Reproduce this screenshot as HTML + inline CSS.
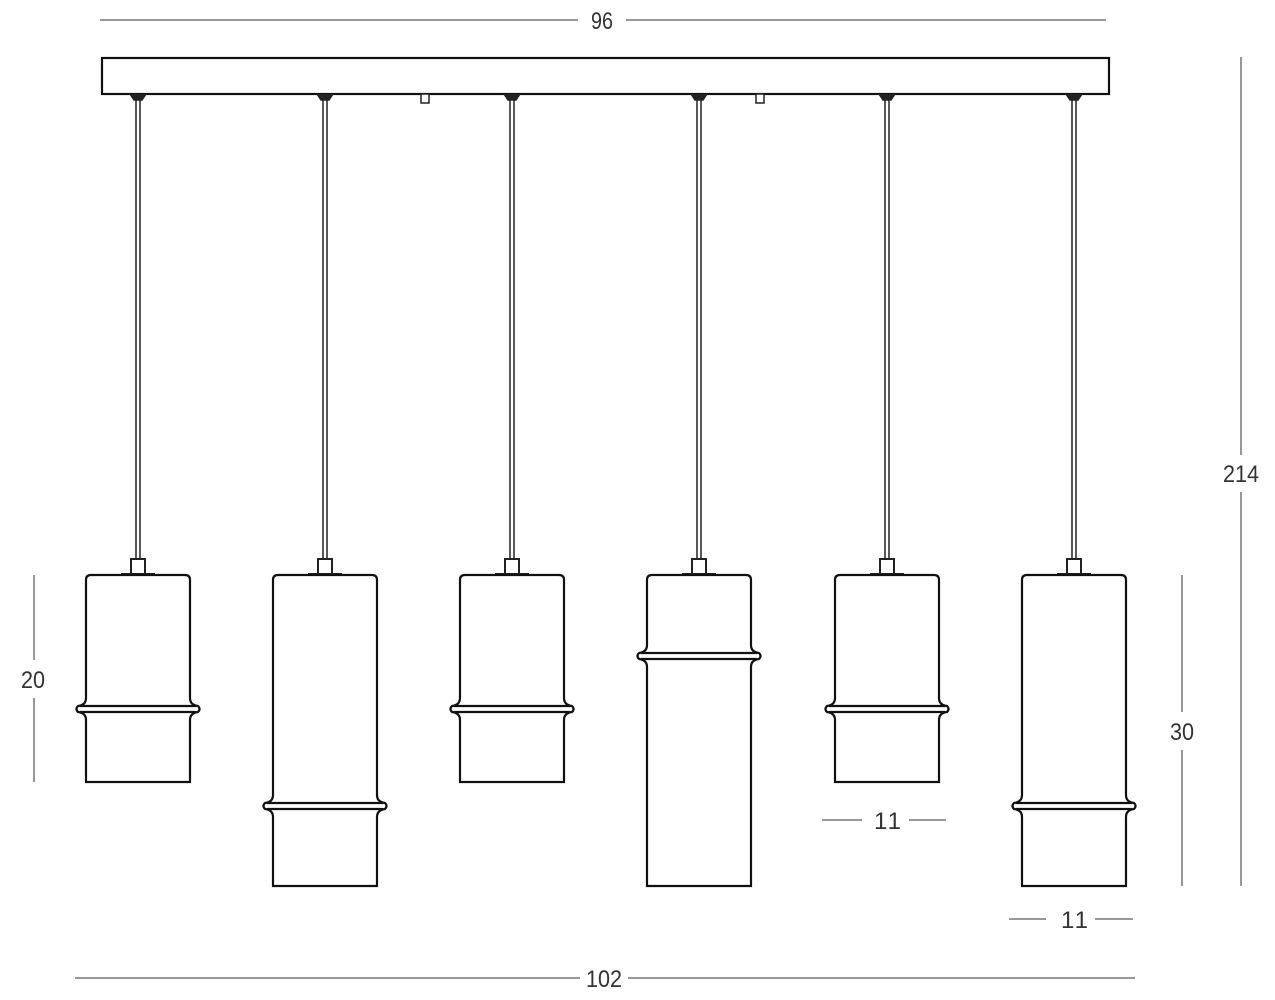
<!DOCTYPE html>
<html><head><style>
html,body{margin:0;padding:0;background:#fff;width:1275px;height:1000px;overflow:hidden}
text{font-family:"Liberation Sans Narrow","Liberation Sans",sans-serif;font-size:24px;fill:#333}
</style></head><body>
<svg width="1275" height="1000" viewBox="0 0 1275 1000" xmlns="http://www.w3.org/2000/svg">
<defs>
<g id="cord" stroke="#222" fill="none" stroke-width="1.5">
<path d="M -8 94 L -4 100 H 4 L 8 94" fill="#222"/>
<line x1="-2" y1="100" x2="-2" y2="558"/><line x1="2" y1="100" x2="2" y2="558"/>
<rect x="-7" y="559" width="14" height="15" fill="#fff" stroke-width="2"/>
<line x1="-17" y1="574" x2="17" y2="574" stroke-width="2"/>
</g>
<g id="A" stroke="#111" fill="none" stroke-width="2.2">
<path d="M -52 580 Q -52 575 -47 575 H 47 Q 52 575 52 580 V 698 Q 52 705 60 706 Q 63 709 60 712 Q 52 713 52 720 V 782 H -52 V 720 Q -52 713 -60 712 Q -63 709 -60 706 Q -52 705 -52 698 Z"/>
<line x1="-58" y1="706" x2="58" y2="706"/><line x1="-58" y1="712" x2="58" y2="712"/>
</g>
<g id="B" stroke="#111" fill="none" stroke-width="2.2">
<path d="M -52 580 Q -52 575 -47 575 H 47 Q 52 575 52 580 V 795 Q 52 802 60 803 Q 63 806 60 809 Q 52 810 52 817 V 886 H -52 V 817 Q -52 810 -60 809 Q -63 806 -60 803 Q -52 802 -52 795 Z"/>
<line x1="-58" y1="803" x2="58" y2="803"/><line x1="-58" y1="809" x2="58" y2="809"/>
</g>
<g id="C" stroke="#111" fill="none" stroke-width="2.2">
<path d="M -52 580 Q -52 575 -47 575 H 47 Q 52 575 52 580 V 645 Q 52 652 60 653 Q 63 656 60 659 Q 52 660 52 667 V 886 H -52 V 667 Q -52 660 -60 659 Q -63 656 -60 653 Q -52 652 -52 645 Z"/>
<line x1="-58" y1="653" x2="58" y2="653"/><line x1="-58" y1="659" x2="58" y2="659"/>
</g>
</defs>
<rect x="102" y="58" width="1007" height="36" fill="#fff" stroke="#111" stroke-width="2.2"/>
<rect x="421" y="94" width="8" height="9" fill="#fff" stroke="#222" stroke-width="1.5"/>
<rect x="756" y="94" width="8" height="9" fill="#fff" stroke="#222" stroke-width="1.5"/>
<use href="#cord" transform="translate(138,0)"/><use href="#A" transform="translate(138,0)"/>
<use href="#cord" transform="translate(325,0)"/><use href="#B" transform="translate(325,0)"/>
<use href="#cord" transform="translate(512,0)"/><use href="#A" transform="translate(512,0)"/>
<use href="#cord" transform="translate(699,0)"/><use href="#C" transform="translate(699,0)"/>
<use href="#cord" transform="translate(887,0)"/><use href="#A" transform="translate(887,0)"/>
<use href="#cord" transform="translate(1074,0)"/><use href="#B" transform="translate(1074,0)"/>
<g stroke="#777" stroke-width="1.5">
<line x1="100" y1="20" x2="578" y2="20"/><line x1="626" y1="20" x2="1106" y2="20"/>
<line x1="1241" y1="57" x2="1241" y2="455"/><line x1="1241" y1="492" x2="1241" y2="886"/>
<line x1="1182" y1="575" x2="1182" y2="712"/><line x1="1182" y1="750" x2="1182" y2="886"/>
<line x1="34" y1="575" x2="34" y2="660"/><line x1="34" y1="698" x2="34" y2="782"/>
<line x1="822" y1="820" x2="862" y2="820"/><line x1="909" y1="820" x2="946" y2="820"/>
<line x1="1009" y1="919" x2="1046" y2="919"/><line x1="1095" y1="919" x2="1133" y2="919"/>
<line x1="75" y1="978" x2="580" y2="978"/><line x1="628" y1="978" x2="1135" y2="978"/>
</g>
<text x="591" y="29" textLength="22" lengthAdjust="spacingAndGlyphs">96</text>
<text x="1223" y="482" textLength="36" lengthAdjust="spacingAndGlyphs">214</text>
<text x="1170" y="740" textLength="24" lengthAdjust="spacingAndGlyphs">30</text>
<text x="21" y="688" textLength="24" lengthAdjust="spacingAndGlyphs">20</text>
<text x="874" y="829" letter-spacing="2">11</text>
<text x="1061" y="928" letter-spacing="2">11</text>
<text x="586" y="987" textLength="36" lengthAdjust="spacingAndGlyphs">102</text>
</svg>
</body></html>
